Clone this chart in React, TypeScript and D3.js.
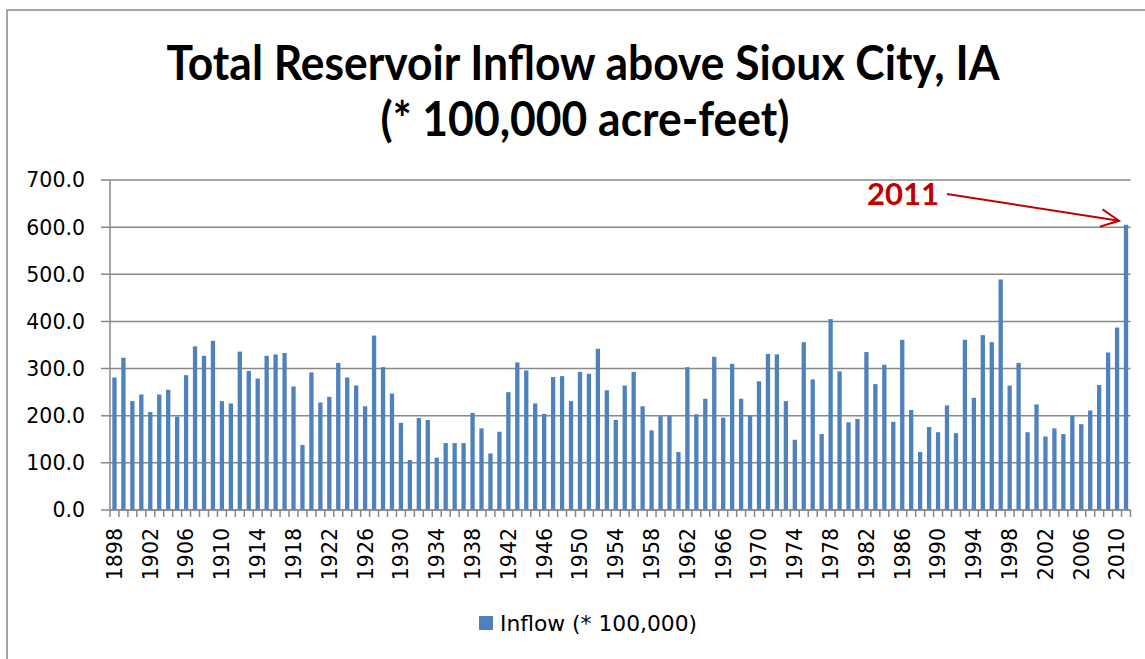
import React from "react";
import * as d3 from "d3";

const years: number[] = Array.from({ length: 2011 - 1898 + 1 }, (_, i) => 1898 + i);
const inflow: number[] = [
  281, 323, 231, 245, 208, 245, 255, 198, 286, 347,
  327, 359, 231, 226, 336, 295, 279, 327, 330, 333,
  262, 138, 292, 228, 240, 312, 281, 264, 220, 370,
  303, 247, 185, 106, 195, 191, 111, 142, 142, 142,
  206, 173, 120, 166, 250, 313, 296, 226, 204, 282,
  284, 231, 293, 289, 342, 254, 191, 264, 293, 220,
  169, 199, 200, 123, 303, 203, 236, 325, 196, 310,
  236, 200, 273, 331, 330, 231, 149, 356, 277, 161,
  405, 294, 186, 193, 335, 267, 308, 187, 361, 212,
  123, 176, 165, 222, 163, 361, 238, 371, 356, 489,
  264, 312, 165, 224, 156, 173, 161, 200, 182, 211,
  265, 334, 387, 605,
];
const yTicks: number[] = [0, 100, 200, 300, 400, 500, 600, 700];
const labelYears: number[] = years.filter((y) => (y - 1898) % 4 === 0);
const titleLines: string[] = ["Total Reservoir Inflow above Sioux City, IA", "(* 100,000 acre-feet)"];
const seriesName = "Inflow (* 100,000)";
const annotationYear = 2011;

const W = 1145;
const H = 659;
const plot = { left: 110, right: 1130.5, top: 180, bottom: 510 };
const barColor = "#4F81BD";
const gridColor = "#888888";
const axisFont = "'DejaVu Sans', sans-serif";

export default function App() {
  const x = d3
    .scaleBand<number>()
    .domain(years)
    .range([plot.left, plot.right])
    .paddingInner(0.52)
    .paddingOuter(0.26);
  const y = d3.scaleLinear().domain([0, 700]).range([plot.bottom, plot.top]);
  const step = x.step();
  const bw = x.bandwidth();
  const catLeft = (yr: number) => (x(yr) as number) - (step - bw) / 2;

  const annX = (x(annotationYear) as number) + bw / 2;
  const annY = y(inflow[years.indexOf(annotationYear)]);
  const tip: [number, number] = [annX - 7, annY - 4];
  const start: [number, number] = [947, 194];
  const ang = Math.atan2(tip[1] - start[1], tip[0] - start[0]);
  const headLen = 20;
  const headAng = 0.45;
  const h1: [number, number] = [tip[0] - headLen * Math.cos(ang - headAng), tip[1] - headLen * Math.sin(ang - headAng)];
  const h2: [number, number] = [tip[0] - headLen * Math.cos(ang + headAng), tip[1] - headLen * Math.sin(ang + headAng)];

  return (
    <svg
      width={W}
      height={H}
      style={{ position: "absolute", left: 0, top: 0, background: "#fff" }}
    >
      <rect x={0} y={0} width={W} height={H} fill="#fff" />
      <rect x={7} y={10} width={W + 10} height={H + 10} fill="none" stroke={gridColor} strokeWidth={1.5} />

      {/* title */}
      <text
        x={583}
        y={80}
        textAnchor="middle"
        fontFamily="Lato, 'Open Sans', sans-serif"
        fontWeight="bold"
        fontSize={48}
        textLength={833}
        lengthAdjust="spacingAndGlyphs"
        fill="#000"
      >
        {titleLines[0]}
      </text>
      <text
        x={585}
        y={136}
        textAnchor="middle"
        fontFamily="Lato, 'Open Sans', sans-serif"
        fontWeight="bold"
        fontSize={48}
        textLength={409}
        lengthAdjust="spacingAndGlyphs"
        fill="#000"
      >
        {titleLines[1]}
      </text>

      {/* gridlines and y ticks */}
      {yTicks.map((t) => (
        <g key={t}>
          <line x1={plot.left - 9} x2={plot.right} y1={y(t)} y2={y(t)} stroke={gridColor} strokeWidth={1.5} />
          <text
            x={85}
            y={y(t)}
            dy="0.36em"
            textAnchor="end"
            fontFamily={axisFont}
            fontSize={20.5}
            fill="#000"
          >
            {t.toFixed(1)}
          </text>
        </g>
      ))}

      {/* y axis */}
      <line x1={plot.left} x2={plot.left} y1={plot.top} y2={plot.bottom} stroke={gridColor} strokeWidth={1.5} />

      {/* bars */}
      {years.map((yr, i) => (
        <rect
          key={yr}
          x={x(yr) as number}
          y={y(inflow[i])}
          width={bw}
          height={y(0) - y(inflow[i])}
          fill={barColor}
        />
      ))}

      {/* x axis */}
      <line x1={plot.left} x2={plot.right} y1={plot.bottom} y2={plot.bottom} stroke={gridColor} strokeWidth={1.5} />
      {years.map((yr) => (
        <line
          key={"t" + yr}
          x1={catLeft(yr)}
          x2={catLeft(yr)}
          y1={plot.bottom}
          y2={plot.bottom + 7}
          stroke={gridColor}
          strokeWidth={1.5}
        />
      ))}
      <line x1={plot.right} x2={plot.right} y1={plot.bottom} y2={plot.bottom + 7} stroke={gridColor} strokeWidth={1.5} />

      {/* x labels */}
      {labelYears.map((yr) => {
        const cx = (x(yr) as number) + bw / 2;
        return (
          <text
            key={"l" + yr}
            transform={`translate(${cx},${plot.bottom + 18}) rotate(-90)`}
            textAnchor="end"
            dy="0.36em"
            fontFamily={axisFont}
            fontSize={20.5}
            fill="#000"
          >
            {yr}
          </text>
        );
      })}

      {/* legend */}
      <rect x={479} y={616} width={14} height={14} fill={barColor} />
      <text x={500} y={631} fontFamily={axisFont} fontSize={21.8} fill="#000">
        {seriesName}
      </text>

      {/* annotation */}
      <text
        x={867}
        y={205}
        fontFamily="Lato, 'Open Sans', sans-serif"
        fontWeight="bold"
        fontSize={31}
        fill="#C00000"
      >
        {String(annotationYear)}
      </text>
      <line x1={start[0]} y1={start[1]} x2={tip[0]} y2={tip[1]} stroke="#C00000" strokeWidth={2} />
      <polyline
        points={`${h1[0]},${h1[1]} ${tip[0]},${tip[1]} ${h2[0]},${h2[1]}`}
        fill="none"
        stroke="#C00000"
        strokeWidth={2}
      />
    </svg>
  );
}
